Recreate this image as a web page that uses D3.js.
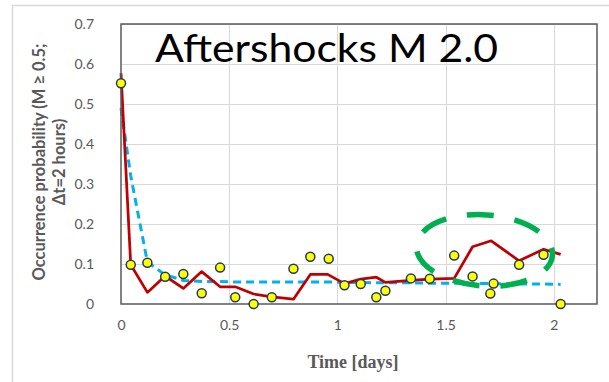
<!DOCTYPE html>
<html>
<head>
<meta charset="utf-8">
<script src="https://cdn.jsdelivr.net/npm/d3@7"></script>
<style>
  body { margin: 0; background: #fff; }
  svg { display: block; }
</style>
</head>
<body>
<div id="chart"></div>
<script>
// observed occurrence probability (yellow dots)
var obsTimes = [0, 0.045, 0.122, 0.204, 0.288, 0.373, 0.458, 0.528, 0.613, 0.697, 0.797, 0.875, 0.96,
                1.033, 1.108, 1.18, 1.222, 1.34, 1.427, 1.54, 1.625, 1.707, 1.722, 1.84, 1.953, 2.032];
var obsValues = [0.552, 0.098, 0.103, 0.068, 0.075, 0.027, 0.091, 0.017, 0, 0.017, 0.088, 0.118, 0.113,
                 0.047, 0.05, 0.017, 0.033, 0.064, 0.063, 0.121, 0.069, 0.026, 0.051, 0.098, 0.123, 0];

// model curves (red forecast, blue dashed fit)
var modelTimes = [0, 0.045, 0.122, 0.204, 0.288, 0.373, 0.458, 0.528, 0.613, 0.697, 0.797, 0.875, 0.955,
                  1.033, 1.108, 1.18, 1.222, 1.34, 1.427, 1.54, 1.625, 1.711, 1.84, 1.953, 2.032];
var redValues = [0.577, 0.098, 0.029, 0.07, 0.039, 0.081, 0.043, 0.043, 0.025, 0.018, 0.012, 0.074, 0.074,
                 0.051, 0.062, 0.067, 0.054, 0.059, 0.062, 0.064, 0.143, 0.158, 0.108, 0.137, 0.124];
var blueValues = [0.49, 0.32, 0.105, 0.073, 0.059, 0.056, 0.056, 0.055, 0.055, 0.055, 0.055, 0.055, 0.055,
                  0.054, 0.054, 0.053, 0.053, 0.053, 0.052, 0.052, 0.051, 0.051, 0.05, 0.05, 0.049];

var xTicks = [0, 0.5, 1, 1.5, 2];
var yTicks = [0, 0.1, 0.2, 0.3, 0.4, 0.5, 0.6, 0.7];

// highlighted region (green dashed ellipse): centre and radii in data units
var highlight = {t: 1.68, v: 0.134, rt: 0.315, rv: 0.089};

var width = 609, height = 382;
var margin = {left: 121, right: 12, top: 24, bottom: 78};

var svg = d3.select('#chart').append('svg').attr('width', width).attr('height', height);

// outer chart frame
svg.append('path')
  .attr('d', 'M12.5,' + height + 'V5.5H' + width)
  .attr('fill', 'none').attr('stroke', '#d9d9d9').attr('stroke-width', 1.5);

var x = d3.scaleLinear().domain([0, 2.2]).range([margin.left, width - margin.right]);
var y = d3.scaleLinear().domain([0, 0.7]).range([height - margin.bottom, margin.top]);

// grid
svg.append('g').selectAll('line').data(yTicks.slice(1)).enter().append('line')
  .attr('x1', x(0)).attr('x2', x(2.2))
  .attr('y1', function(d) { return Math.round(y(d)) + 0.5; })
  .attr('y2', function(d) { return Math.round(y(d)) + 0.5; })
  .attr('stroke', '#d9d9d9');
svg.append('g').selectAll('line').data(xTicks.slice(1)).enter().append('line')
  .attr('y1', y(0)).attr('y2', y(0.7))
  .attr('x1', function(d) { return Math.round(x(d)) + 0.5; })
  .attr('x2', function(d) { return Math.round(x(d)) + 0.5; })
  .attr('stroke', '#d9d9d9');

// title
svg.append('text')
  .attr('x', 155).attr('y', 62)
  .attr('textLength', 343)
  .attr('lengthAdjust', 'spacingAndGlyphs')
  .style('font-family', 'Lato, "Open Sans", sans-serif')
  .style('font-size', '38px')
  .attr('fill', '#000')
  .text('Aftershocks M 2.0');

// axes (labels only, Excel style)
var xAxis = d3.axisBottom(x).tickValues(xTicks).tickSize(0).tickPadding(16)
  .tickFormat(function(d) { return String(d); });
var yAxis = d3.axisLeft(y).tickValues(yTicks).tickSize(0).tickPadding(27)
  .tickFormat(function(d) { return String(d); });

var gx = svg.append('g').attr('transform', 'translate(0,' + y(0) + ')').call(xAxis);
var gy = svg.append('g').attr('transform', 'translate(' + x(0) + ',0)').call(yAxis);
[gx, gy].forEach(function(g) {
  g.select('.domain').remove();
  g.selectAll('text')
    .style('font-family', 'Lato, "Open Sans", sans-serif')
    .style('font-size', '14px')
    .attr('fill', '#595959');
});

// axis titles
svg.append('text')
  .attr('x', 353).attr('y', 368)
  .attr('text-anchor', 'middle')
  .style('font-family', '"Liberation Serif", "Times New Roman", serif')
  .style('font-weight', 'bold')
  .style('font-size', '18px')
  .attr('fill', '#595959')
  .text('Time [days]');

var yTitle = svg.append('text')
  .attr('transform', 'translate(0,162) rotate(-90)')
  .attr('text-anchor', 'middle')
  .style('font-family', 'Lato, "Open Sans", sans-serif')
  .style('font-weight', 'bold')
  .style('font-size', '16.5px')
  .attr('fill', '#595959');
yTitle.append('tspan').attr('x', 0).attr('y', 45).text('Occurrence probability (M \u2265 0.5;');
yTitle.append('tspan').attr('x', 0).attr('y', 65).text('\u0394t=2 hours)');

// curves
var modelLine = d3.line()
  .x(function(d, i) { return x(modelTimes[i]); })
  .y(function(d) { return y(d); });

svg.append('path')
  .datum(blueValues)
  .attr('d', modelLine)
  .attr('fill', 'none')
  .attr('stroke', '#00b0f0')
  .attr('stroke-width', 3)
  .attr('stroke-dasharray', '8,5');

svg.append('path')
  .datum(redValues)
  .attr('d', modelLine)
  .attr('fill', 'none')
  .attr('stroke', '#c00000')
  .attr('stroke-width', 2.75)
  .attr('stroke-linejoin', 'round');

// plot border
svg.append('rect')
  .attr('x', x(0)).attr('y', y(0.7))
  .attr('width', x(2.2) - x(0)).attr('height', y(0) - y(0.7))
  .attr('fill', 'none').attr('stroke', '#595959').attr('stroke-width', 1.5);

// observed points
svg.append('g').selectAll('circle').data(obsValues).enter().append('circle')
  .attr('cx', function(d, i) { return x(obsTimes[i]); })
  .attr('cy', function(d) { return y(d); })
  .attr('r', 4.5)
  .attr('fill', '#ffff00')
  .attr('stroke', '#203864')
  .attr('stroke-width', 1.5);

// highlight ellipse
var cx = x(highlight.t), cy = y(highlight.v);
svg.append('ellipse')
  .attr('cx', cx).attr('cy', cy)
  .attr('rx', x(highlight.rt) - x(0))
  .attr('ry', y(0) - y(highlight.rv))
  .attr('transform', 'rotate(4,' + cx + ',' + cy + ')')
  .attr('fill', 'none')
  .attr('stroke', '#00b050')
  .attr('stroke-width', 5.5)
  .attr('stroke-dasharray', '27,21')
  .attr('stroke-dashoffset', 10);
</script>
</body>
</html>
